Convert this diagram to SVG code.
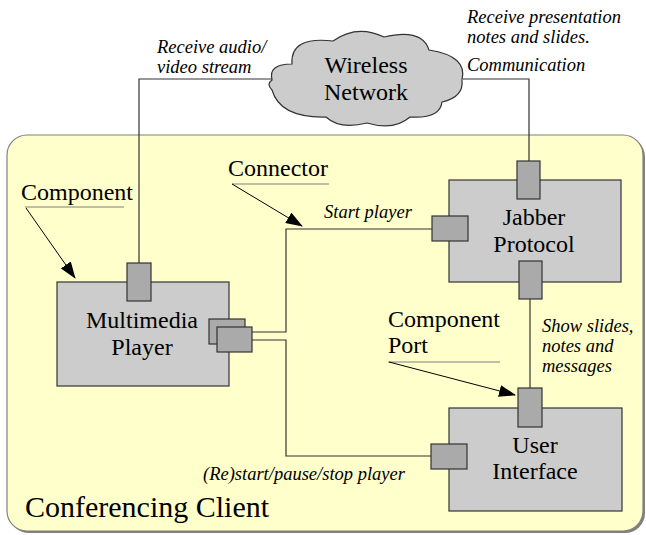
<svg xmlns="http://www.w3.org/2000/svg" width="646" height="535" viewBox="0 0 646 535">
<defs>
<style>
text{font-family:'Liberation Serif','Times New Roman',serif;fill:#000}
.lbl{font-size:24px}
.it{font-size:18.5px;font-style:italic}
.big{font-size:30px}
.box{fill:#cccccc;stroke:#333;stroke-width:1.2}
.port{fill:#aaaaaa;stroke:#333;stroke-width:1.2}
.wire{fill:none;stroke:#333;stroke-width:1.2}
.ul{fill:none;stroke:#808080;stroke-width:1.2}
.ann{fill:none;stroke:#000;stroke-width:1;marker-end:url(#ah)}
</style>
<marker id="ah" markerWidth="17" markerHeight="12" refX="16" refY="6" orient="auto" markerUnits="userSpaceOnUse">
<path d="M0,0 L17,6 L0,12 Z" fill="#000"/>
</marker>
</defs>
<rect width="646" height="535" fill="#fff"/>
<g id="container">
<rect x="9" y="137" width="636" height="396" rx="20" fill="#808080"/>
<rect x="7" y="135" width="636" height="396" rx="20" fill="#ffffcc" stroke="#808080" stroke-width="1.2"/>
<text class="big" x="25" y="517">Conferencing Client</text>
</g>
<g id="connectors">
<path class="wire" d="M139,263 V79 H272"/>
<path class="wire" d="M463,79 H529 V161"/>
<path class="wire" d="M252,332 H286 V229 H432"/>
<path class="wire" d="M252,340 H286 V456 H431"/>
<path class="wire" d="M530,299 V388"/>
</g>
<g id="wireless-network">
<path d="M272,80 Q268,64 292,64 Q290,36 333,41 Q357,24 384,37 Q422,28 429,50 Q468,56 462,80 Q464,97 442,102 Q440,119 410,117 Q394,131 367,123 Q340,130 326,117 Q280,118 272,90 Q266,84 272,80 Z" fill="#cccccc" stroke="#333" stroke-width="1.2"/>
<text class="lbl" x="366" y="73" text-anchor="middle">Wireless</text>
<text class="lbl" x="366" y="100" text-anchor="middle">Network</text>
</g>
<g id="multimedia-player">
<rect class="box" x="57" y="282" width="172" height="104"/>
<rect class="port" x="127" y="263" width="24" height="38"/>
<rect class="port" x="209" y="319" width="36" height="25"/>
<rect class="port" x="217" y="327" width="35" height="25"/>
<text class="lbl" x="142" y="328" text-anchor="middle">Multimedia</text>
<text class="lbl" x="142" y="355" text-anchor="middle">Player</text>
</g>
<g id="jabber-protocol">
<rect class="box" x="449" y="180" width="172" height="102"/>
<rect class="port" x="517" y="161" width="23" height="38"/>
<rect class="port" x="432" y="216" width="36" height="25"/>
<rect class="port" x="519" y="261" width="23" height="38"/>
<text class="lbl" x="534" y="225" text-anchor="middle">Jabber</text>
<text class="lbl" x="534" y="252" text-anchor="middle">Protocol</text>
</g>
<g id="user-interface">
<rect class="box" x="449" y="408" width="173" height="103"/>
<rect class="port" x="518" y="388" width="24" height="39"/>
<rect class="port" x="431" y="444" width="36" height="25"/>
<text class="lbl" x="535" y="453" text-anchor="middle">User</text>
<text class="lbl" x="535" y="479" text-anchor="middle">Interface</text>
</g>
<g id="labels">
<text class="it" x="157" y="53">Receive audio/</text>
<text class="it" x="157" y="73">video stream</text>
<text class="it" x="467" y="23">Receive presentation</text>
<text class="it" x="467" y="43">notes and slides.</text>
<text class="it" x="467" y="71">Communication</text>
<text class="it" x="324" y="218">Start player</text>
<text class="it" x="203" y="480">(Re)start/pause/stop player</text>
<text class="it" x="542" y="332">Show slides,</text>
<text class="it" x="542" y="352">notes and</text>
<text class="it" x="542" y="372">messages</text>
</g>
<g id="annotation-component">
<text class="lbl" x="21" y="200">Component</text>
<path class="ul" d="M25,207 H124"/>
<path class="ann" d="M26,208 L75,278"/>
</g>
<g id="annotation-connector">
<text class="lbl" x="228" y="176">Connector</text>
<path class="ul" d="M232,184 H329"/>
<path class="ann" d="M232,184 L302,226"/>
</g>
<g id="annotation-port">
<text class="lbl" x="388" y="327">Component</text>
<text class="lbl" x="388" y="353">Port</text>
<path class="ul" d="M388,362 H500"/>
<path class="ann" d="M389,362 L515,395"/>
</g>
</svg>
